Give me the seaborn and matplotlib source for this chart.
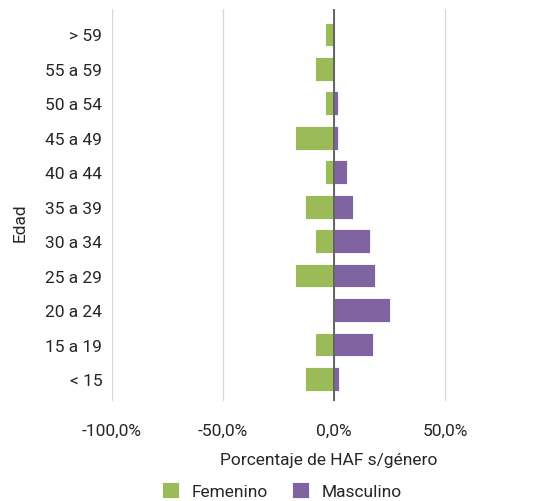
import seaborn as sns
import pandas as pd
from matplotlib import pyplot as plt
from matplotlib.ticker import FuncFormatter

# age groups, top to bottom as in the chart
edades = ['> 59', '55 a 59', '50 a 54', '45 a 49', '40 a 44', '35 a 39',
          '30 a 34', '25 a 29', '20 a 24', '15 a 19', '< 15']
# share of HAF per gender (fraction)
femenino = [0.043, 0.087, 0.043, 0.176, 0.043, 0.132, 0.087, 0.176, 0.0, 0.087, 0.132]
masculino = [0.0, 0.0, 0.017, 0.017, 0.055, 0.086, 0.159, 0.185, 0.250, 0.172, 0.023]
generos = ['Femenino', 'Masculino']
colores = {'Femenino': '#9BBB59', 'Masculino': '#8064A2'}

TXT = '#262626'

df = pd.DataFrame({
    'edad': edades * 2,
    'valor': [-v for v in femenino] + masculino,
    'genero': [generos[0]] * len(edades) + [generos[1]] * len(edades),
})

sns.set_style('white')
plt.rcParams['font.family'] = ['Roboto', 'DejaVu Sans']
plt.rcParams['font.size'] = 12.5

fig = plt.figure(figsize=(5.45, 5.02), dpi=100)
ax = fig.add_axes([0.2055, 0.1992, 0.7945, 0.7809])

sns.barplot(data=df, x='valor', y='edad', hue='genero', order=edades,
            hue_order=generos, palette=colores, dodge=False, width=0.69,
            saturation=1, orient='h', edgecolor='white', linewidth=0.6,
            ax=ax, zorder=3)

ax.set_xlim(-1.0, 0.948)
ax.set_ylim(10.64, -0.74)
ax.set_xticks([-1.0, -0.5, 0.0, 0.5])
ax.xaxis.set_major_formatter(FuncFormatter(lambda v, p: f'{v*100:.1f}%'.replace('.', ',')))
ax.grid(axis='x', color='#D9D9D9', linewidth=1.0, zorder=0)
ax.grid(axis='y', visible=False)
ax.axvline(0, color='#595959', linewidth=1.3, zorder=4)
for s in ax.spines.values():
    s.set_visible(False)

ax.tick_params(axis='both', length=0, labelsize=12.5, colors=TXT)
ax.tick_params(axis='y', pad=7)
ax.tick_params(axis='x', pad=16)

ax.set_xlabel('Porcentaje de HAF s/género', fontsize=12.5, color=TXT, labelpad=10)
ax.set_ylabel('Edad', fontsize=12.5, color=TXT)
ax.yaxis.set_label_coords(-0.195, 0.457)

handles, labels = ax.get_legend_handles_labels()
ax.get_legend().remove()
fig.legend(handles, labels, loc='center', bbox_to_anchor=(0.517, 0.021),
           ncol=2, frameon=False, fontsize=12.5, handlelength=1.0,
           handleheight=1.0, handletextpad=0.7, columnspacing=1.4,
           labelcolor=TXT)

fig.savefig('out.png', dpi=100)
